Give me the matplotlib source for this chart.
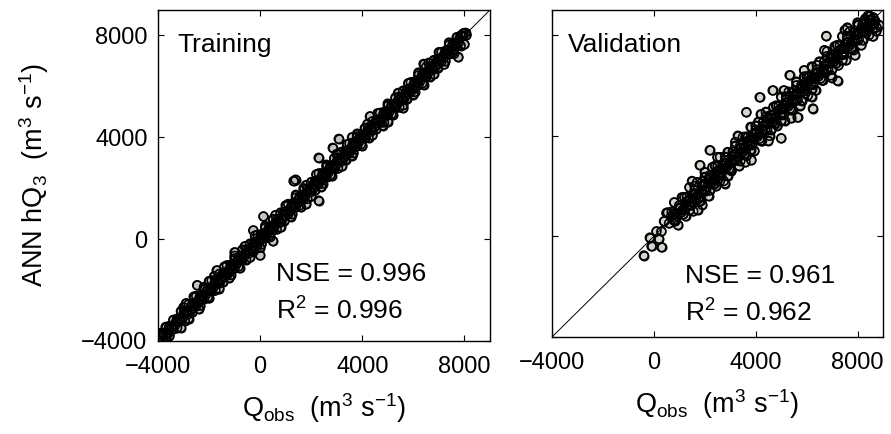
import matplotlib
matplotlib.use("Agg")
import matplotlib.pyplot as plt

plt.rcParams['font.family'] = ['Liberation Sans', 'DejaVu Sans']
plt.rcParams['mathtext.fontset'] = 'custom'
plt.rcParams['mathtext.rm'] = 'Liberation Sans'
plt.rcParams['mathtext.it'] = 'Liberation Sans'
plt.rcParams['mathtext.default'] = 'regular'

# ======================= Training data (Q_obs, ANN hQ3) =======================
train_obs_core = [
    -3900, -3800, -3700, -3600, -3450, -3300, -3150, -3000, -2850, -2700, -2550, -2400,
    -2250, -2100, -1950, -1800, -1650, -1500, -1350, -1200, -1050, -900, -750, -600,
    -450, -300, -150, 0, 150, 300, 450, 600, 750, 900, 1050, 1200, 1350, 1500, 1650,
    1800, 1950, 2100, 2250, 2400, 2550, 2700, 2850, 3000, 3150, 3300, 3450, 3600, 3750,
    3900, 4050, 4200, 4350, 4500, 4650, 4800, 4950, 5100, 5250, 5400, 5550, 5700, 5850,
    6000, 6150, 6300, 6450, 6600, 6750, 6900, 7050, 7200, 7350, 7500, 7650, 7800, 7950, 8050]
train_sim_core = [
    -3850, -3790, -3720, -3560, -3480, -3260, -3190, -2950, -2880, -2660, -2590, -2370,
    -2280, -2060, -1990, -1770, -1690, -1460, -1390, -1170, -1080, -860, -790, -570,
    -480, -260, -190, 30, 110, 330, 420, 640, 710, 930, 1020, 1240, 1310, 1540, 1610,
    1830, 1920, 2140, 2210, 2440, 2510, 2740, 2810, 3050, 3110, 3340, 3410, 3650, 3710,
    3940, 4010, 4250, 4310, 4540, 4610, 4850, 4910, 5140, 5210, 5450, 5510, 5740, 5810,
    6050, 6110, 6340, 6410, 6640, 6710, 6950, 7010, 7240, 7310, 7540, 7610, 7850, 7980, 8100]

train_obs_a = [
    -3700, -3400, -3100, -2800, -2500, -2200, -1900, -1600, -1300, -1000, -700, -400,
    -100, 200, 500, 800, 1100, 1400, 1700, 2000, 2300, 2600, 2900, 3200, 3500, 3800,
    4100, 4400, 4700, 5000, 5300, 5600, 5900, 6200, 6500, 6800, 7100, 7400, 7700]
train_sim_a = [
    -3450, -3170, -2830, -2560, -2230, -1960, -1620, -1370, -1030, -760, -420, -180,
    170, 430, 780, 1040, 1380, 1630, 1990, 2240, 2580, 2830, 3170, 3430, 3760, 4030,
    4360, 4630, 4960, 5230, 5560, 5830, 6160, 6430, 6760, 7030, 7340, 7620, 7930]

train_obs_b = [
    -3550, -3250, -2950, -2650, -2350, -2050, -1750, -1450, -1150, -850, -550, -250,
    50, 350, 650, 950, 1250, 1550, 1850, 2150, 2450, 2750, 3050, 3350, 3650, 3950,
    4250, 4550, 4850, 5150, 5450, 5750, 6050, 6350, 6650, 6950, 7250, 7550, 7850]
train_sim_b = [
    -3790, -3480, -3210, -2880, -2610, -2280, -2010, -1680, -1410, -1080, -810, -480,
    -210, 120, 390, 720, 980, 1320, 1580, 1920, 2180, 2520, 2780, 3120, 3380, 3720,
    3980, 4320, 4580, 4920, 5180, 5520, 5780, 6120, 6380, 6720, 6980, 7320, 7600]

train_obs_c = [
    -3850, -3550, -3250, -2950, -2650, -2350, -2050, -1750, -1450, -1150, -850, -550,
    -250, 50, 350, 650, 950, 1250, 1550, 1850, 2150, 2450, 2750, 3050, 3350, 3650,
    3950, 4250, 4550, 4850, 5150, 5450, 5750, 6050, 6350, 6650, 6950, 7250, 7550, 7850]
train_sim_c = [
    -3720, -3410, -3130, -2810, -2530, -2210, -1930, -1610, -1330, -1010, -730, -410,
    -130, 190, 470, 790, 1070, 1390, 1670, 1990, 2270, 2590, 2870, 3190, 3470, 3790,
    4070, 4390, 4670, 4990, 5270, 5590, 5870, 6190, 6470, 6790, 7070, 7390, 7670, 7990]

train_obs_d = [
    -3700, -3400, -3100, -2800, -2500, -2200, -1900, -1600, -1300, -1000, -700, -400,
    -100, 200, 500, 800, 1100, 1400, 1700, 2000, 2300, 2600, 2900, 3200, 3500, 3800,
    4100, 4400, 4700, 5000, 5300, 5600, 5900, 6200, 6500, 6800, 7100, 7400, 7700]
train_sim_d = [
    -3830, -3540, -3230, -2940, -2630, -2340, -2030, -1740, -1430, -1140, -830, -540,
    -230, 60, 370, 660, 970, 1260, 1570, 1860, 2170, 2460, 2770, 3060, 3370, 3660,
    3970, 4260, 4570, 4860, 5170, 5460, 5770, 6060, 6370, 6660, 6970, 7260, 7570]

train_obs_e = [
    -3775, -3475, -3175, -2875, -2575, -2275, -1975, -1675, -1375, -1075, -775, -475,
    -175, 125, 425, 725, 1025, 1325, 1625, 1925, 2225, 2525, 2825, 3125, 3425, 3725,
    4025, 4325, 4625, 4925, 5225, 5525, 5825, 6125, 6425, 6725, 7025, 7325, 7625, 7925]
train_sim_e = [
    -3710, -3420, -3110, -2820, -2510, -2220, -1910, -1620, -1310, -1020, -710, -420,
    -110, 180, 490, 780, 1090, 1380, 1690, 1980, 2290, 2580, 2890, 3180, 3490, 3780,
    4090, 4380, 4690, 4980, 5290, 5580, 5890, 6180, 6490, 6780, 7090, 7380, 7690, 7980]

train_obs_f = [
    -3625, -3325, -3025, -2725, -2425, -2125, -1825, -1525, -1225, -925, -625, -325,
    -25, 275, 575, 875, 1175, 1475, 1775, 2075, 2375, 2675, 2975, 3275, 3575, 3875,
    4175, 4475, 4775, 5075, 5375, 5675, 5975, 6275, 6575, 6875, 7175, 7475, 7775, 8075]
train_sim_f = [
    -3690, -3380, -3090, -2780, -2490, -2180, -1890, -1580, -1290, -980, -690, -380,
    -90, 220, 510, 820, 1110, 1420, 1710, 2020, 2310, 2620, 2910, 3220, 3510, 3820,
    4110, 4420, 4710, 5020, 5310, 5620, 5910, 6220, 6510, 6820, 7110, 7420, 7710, 8010]

train_obs_g = [
    -3000, -2600, -2200, -1800, -1400, -1000, -600, -200, 200, 600, 1000, 1400, 1800,
    2200, 2600, 3000, 3400, 3800, 4200, 4600, 5000, 5400, 5800, 6200, 6600, 7000, 7400]
train_sim_g = [
    -2680, -2260, -1880, -1460, -1080, -660, -280, 140, 520, 940, 1320, 1740, 2120,
    2540, 2920, 3340, 3720, 4140, 4520, 4940, 5320, 5740, 6120, 6540, 6920, 7340, 7720]

train_obs_h = [
    -2800, -2400, -2000, -1600, -1200, -800, -400, 0, 400, 800, 1200, 1600, 2000,
    2400, 2800, 3200, 3600, 4000, 4400, 4800, 5200, 5600, 6000, 6400, 6800, 7200, 7600]
train_sim_h = [
    -3120, -2740, -2320, -1940, -1520, -1140, -720, -340, 80, 460, 880, 1260, 1680,
    2060, 2480, 2860, 3280, 3660, 4080, 4460, 4880, 5260, 5680, 6060, 6480, 6860, 7280]

train_obs_out = [
    1390, 1310, 2293, 2844, 3080, 2293, 130, -2466, -265, 0, -3920, 7957, 8000, 7760,
    -1000, -2900, -1700, 500, 4300, 5600, 6400, 1800, -3100, -2000, 3600, 5000]
train_sim_out = [
    2335, 2280, 3195, 3585, 3937, 1513, 890, -1810, 340, -640, -3690, 8080, 7650, 7150,
    -520, -2520, -1230, -80, 4820, 5150, 6880, 1380, -3480, -1650, 4000, 4620]

# ====================== Validation data (Q_obs, ANN hQ3) ======================
valid_obs_core = [
    600, 750, 900, 1050, 1200, 1350, 1500, 1650, 1800, 1950, 2100, 2250, 2400, 2550,
    2700, 2850, 3000, 3150, 3300, 3450, 3600, 3750, 3900, 4050, 4200, 4350, 4500, 4650,
    4800, 4950, 5100, 5250, 5400, 5550, 5700, 5850, 6000, 6150, 6300, 6450, 6600, 6750,
    6900, 7050, 7200, 7350, 7500, 7650, 7800, 7950, 8100, 8250, 8400, 8550, 8700]
valid_sim_core = [
    520, 860, 820, 1150, 1080, 1420, 1390, 1700, 1720, 2050, 1980, 2350, 2290, 2620,
    2610, 2930, 2920, 3240, 3200, 3520, 3540, 3820, 3850, 4140, 4120, 4430, 4470, 4720,
    4760, 5040, 5050, 5330, 5370, 5620, 5660, 5930, 5960, 6230, 6270, 6520, 6560, 6830,
    6870, 7120, 7180, 7430, 7460, 7720, 7780, 8020, 8080, 8330, 8380, 8600, 8550]

valid_obs_a = [
    800, 1100, 1400, 1700, 2000, 2300, 2600, 2900, 3200, 3500, 3800, 4100, 4400, 4700,
    5000, 5300, 5600, 5900, 6200, 6500, 6800, 7100, 7400, 7700, 8000, 8300]
valid_sim_a = [
    1350, 1550, 1950, 2150, 2550, 2750, 3150, 3350, 3750, 3950, 4350, 4550, 4950, 5150,
    5550, 5750, 6150, 6350, 6750, 6950, 7350, 7550, 7950, 8150, 8500, 8650]

valid_obs_b = [
    950, 1250, 1550, 1850, 2150, 2450, 2750, 3050, 3350, 3650, 3950, 4250, 4550, 4850,
    5150, 5450, 5750, 6050, 6350, 6650, 6950, 7250, 7550, 7850, 8150, 8450, 8750]
valid_sim_b = [
    450, 800, 1000, 1400, 1600, 2000, 2200, 2600, 2800, 3200, 3400, 3800, 4000, 4400,
    4600, 5000, 5200, 5600, 5800, 6200, 6400, 6800, 7000, 7400, 7600, 8000, 8300]

valid_obs_c = [
    700, 1000, 1300, 1600, 1900, 2200, 2500, 2800, 3100, 3400, 3700, 4000, 4300, 4600,
    4900, 5200, 5500, 5800, 6100, 6400, 6700, 7000, 7300, 7600, 7900, 8200, 8500]
valid_sim_c = [
    980, 1230, 1570, 1830, 2170, 2430, 2770, 3030, 3370, 3630, 3970, 4230, 4570, 4830,
    5170, 5430, 5770, 6030, 6370, 6630, 6970, 7230, 7570, 7830, 8170, 8430, 8750]

valid_obs_d = [
    850, 1150, 1450, 1750, 2050, 2350, 2650, 2950, 3250, 3550, 3850, 4150, 4450, 4750,
    5050, 5350, 5650, 5950, 6250, 6550, 6850, 7150, 7450, 7750, 8050, 8350, 8650]
valid_sim_d = [
    620, 880, 1220, 1480, 1820, 2080, 2420, 2680, 3020, 3280, 3620, 3880, 4220, 4480,
    4820, 5080, 5420, 5680, 6020, 6280, 6620, 6880, 7220, 7480, 7820, 8080, 8420]

valid_obs_e = [
    825, 1125, 1425, 1725, 2025, 2325, 2625, 2925, 3225, 3525, 3825, 4125, 4425, 4725,
    5025, 5325, 5625, 5925, 6225, 6525, 6825, 7125, 7425, 7725, 8025, 8325, 8625]
valid_sim_e = [
    900, 1050, 1500, 1650, 2100, 2250, 2700, 2850, 3300, 3450, 3900, 4050, 4500, 4650,
    5100, 5250, 5700, 5850, 6300, 6450, 6900, 7050, 7500, 7650, 8100, 8250, 8700]

valid_obs_f = [
    675, 975, 1275, 1575, 1875, 2175, 2475, 2775, 3075, 3375, 3675, 3975, 4275, 4575,
    4875, 5175, 5475, 5775, 6075, 6375, 6675, 6975, 7275, 7575, 7875, 8175, 8475]
valid_sim_f = [
    790, 1110, 1390, 1710, 1990, 2310, 2590, 2910, 3190, 3510, 3790, 4110, 4390, 4710,
    4990, 5310, 5590, 5910, 6190, 6510, 6790, 7110, 7390, 7710, 7990, 8310, 8590]

valid_obs_g = [
    775, 1075, 1375, 1675, 1975, 2275, 2575, 2875, 3175, 3475, 3775, 4075, 4375, 4675,
    4975, 5275, 5575, 5875, 6175, 6475, 6775, 7075, 7375, 7675, 7975, 8275, 8575]
valid_sim_g = [
    640, 960, 1240, 1560, 1840, 2160, 2440, 2760, 3040, 3360, 3640, 3960, 4240, 4560,
    4840, 5160, 5440, 5760, 6040, 6360, 6640, 6960, 7240, 7560, 7840, 8160, 8440]

valid_obs_h = [
    1200, 1600, 2000, 2400, 2800, 3200, 3600, 4000, 4400, 4800, 5200, 5600, 6000, 6400,
    6800, 7200, 7600, 8000, 8400,
    1400, 1800, 2200, 2600, 3000, 3400, 3800, 4200, 4600, 5000, 5400, 5800, 6200, 6600,
    7000, 7400, 7800, 8200, 8600]
valid_sim_h = [
    1560, 2000, 2360, 2800, 3160, 3600, 3960, 4400, 4760, 5200, 5560, 6000, 6360, 6800,
    7160, 7600, 7960, 8400, 8760,
    1040, 1400, 1840, 2200, 2640, 3000, 3440, 3800, 4240, 4600, 5040, 5400, 5840, 6200,
    6640, 7000, 7440, 7800, 8240]

valid_obs_far = [1500, 2500, 3300, 4200, 5100, 5900, 6700, 7500,
                 1900, 2800, 3600, 4500, 5400, 6200, 7000, 7900, 8600]
valid_sim_far = [2200, 3150, 4000, 4850, 5800, 6600, 7400, 8200,
                 1250, 2100, 2950, 3800, 4700, 5550, 6300, 7200, 7950]

valid_obs_out = [
    -392, -90, 302, -157, 105, 549, 1725, 6773, 8733, 8341, 8850, 4157, 3635, 6248,
    3831, 2196, 1804, 497, 7216, 5647, 5333, 4667, 300, 200, 400, 5000, 2900, 7600]
valid_sim_out = [
    -762, -395, -434, -51, 197, 948, 1054, 7965, 8162, 8557, 8400, 5528, 4936, 5082,
    3029, 3424, 2831, 935, 6188, 4726, 6408, 5800, 200, -100, 600, 3900, 2400, 8300]

train_obs = (train_obs_core + train_obs_a + train_obs_b + train_obs_c + train_obs_d
             + train_obs_e + train_obs_f + train_obs_g + train_obs_h + train_obs_out)
train_sim = (train_sim_core + train_sim_a + train_sim_b + train_sim_c + train_sim_d
             + train_sim_e + train_sim_f + train_sim_g + train_sim_h + train_sim_out)
valid_obs = (valid_obs_core + valid_obs_a + valid_obs_b + valid_obs_c + valid_obs_d
             + valid_obs_e + valid_obs_f + valid_obs_g + valid_obs_h + valid_obs_far
             + valid_obs_out)
valid_sim = (valid_sim_core + valid_sim_a + valid_sim_b + valid_sim_c + valid_sim_d
             + valid_sim_e + valid_sim_f + valid_sim_g + valid_sim_h + valid_sim_far
             + valid_sim_out)

ticks = [-4000, 0, 4000, 8000]
tick_labels = ['\u22124000', '0', '4000', '8000']
lims = [-4000, 9000]

panels = [
    dict(name='Training', obs=train_obs, sim=train_sim, nse='0.996', r2='0.996',
         face='#c4c4c4', rect=[0.1773, 0.2143, 0.3726, 0.7627],
         txt=(0.057, 0.874), stat=(0.355, 0.182, 0.066)),
    dict(name='Validation', obs=valid_obs, sim=valid_sim, nse='0.961', r2='0.962',
         face='#d6d6ce', rect=[0.6195, 0.2235, 0.3715, 0.7535],
         txt=(0.048, 0.872), stat=(0.402, 0.164, 0.047)),
]

fig = plt.figure(figsize=(8.91, 4.34), dpi=100)
for i, p in enumerate(panels):
    ax = fig.add_axes(p['rect'])
    # filled markers, then their black outlines on top (dense overlap -> dark band)
    ax.scatter(p['obs'], p['sim'], s=40, facecolor=p['face'], edgecolor='black',
               linewidths=0.9, zorder=2)
    ax.scatter(p['obs'], p['sim'], s=40, facecolor='none', edgecolor='black',
               linewidths=1.2, zorder=2.5)
    ax.plot(lims, lims, color='black', lw=0.7, zorder=3)
    ax.set_xlim(lims)
    ax.set_ylim(lims)
    ax.set_xticks(ticks)
    ax.set_yticks(ticks)
    ax.set_xticklabels(tick_labels, fontsize=17)
    if i == 0:
        ax.set_yticklabels(tick_labels, fontsize=17)
        ax.set_ylabel('ANN hQ$_3$  (m$^3$ s$^{-1}$)', fontsize=19.5, labelpad=22)
    else:
        ax.set_yticklabels([])
    ax.set_xlabel('Q$_{\\rm obs}$  (m$^3$ s$^{-1}$)', fontsize=19.5, labelpad=9)
    ax.tick_params(direction='in', top=True, right=True, length=4, width=0.8)
    ax.tick_params(axis='x', pad=11)
    ax.tick_params(axis='y', pad=7.5)
    for sp in ax.spines.values():
        sp.set_linewidth(1.0)
    ax.text(p['txt'][0], p['txt'][1], p['name'], transform=ax.transAxes,
            fontsize=19, va='baseline', ha='left')
    ax.text(p['stat'][0], p['stat'][1], 'NSE = ' + p['nse'], transform=ax.transAxes,
            fontsize=19, va='baseline', ha='left')
    ax.text(p['stat'][0], p['stat'][2], 'R$^2$ = ' + p['r2'], transform=ax.transAxes,
            fontsize=19, va='baseline', ha='left')

fig.savefig('out.png', dpi=100)
